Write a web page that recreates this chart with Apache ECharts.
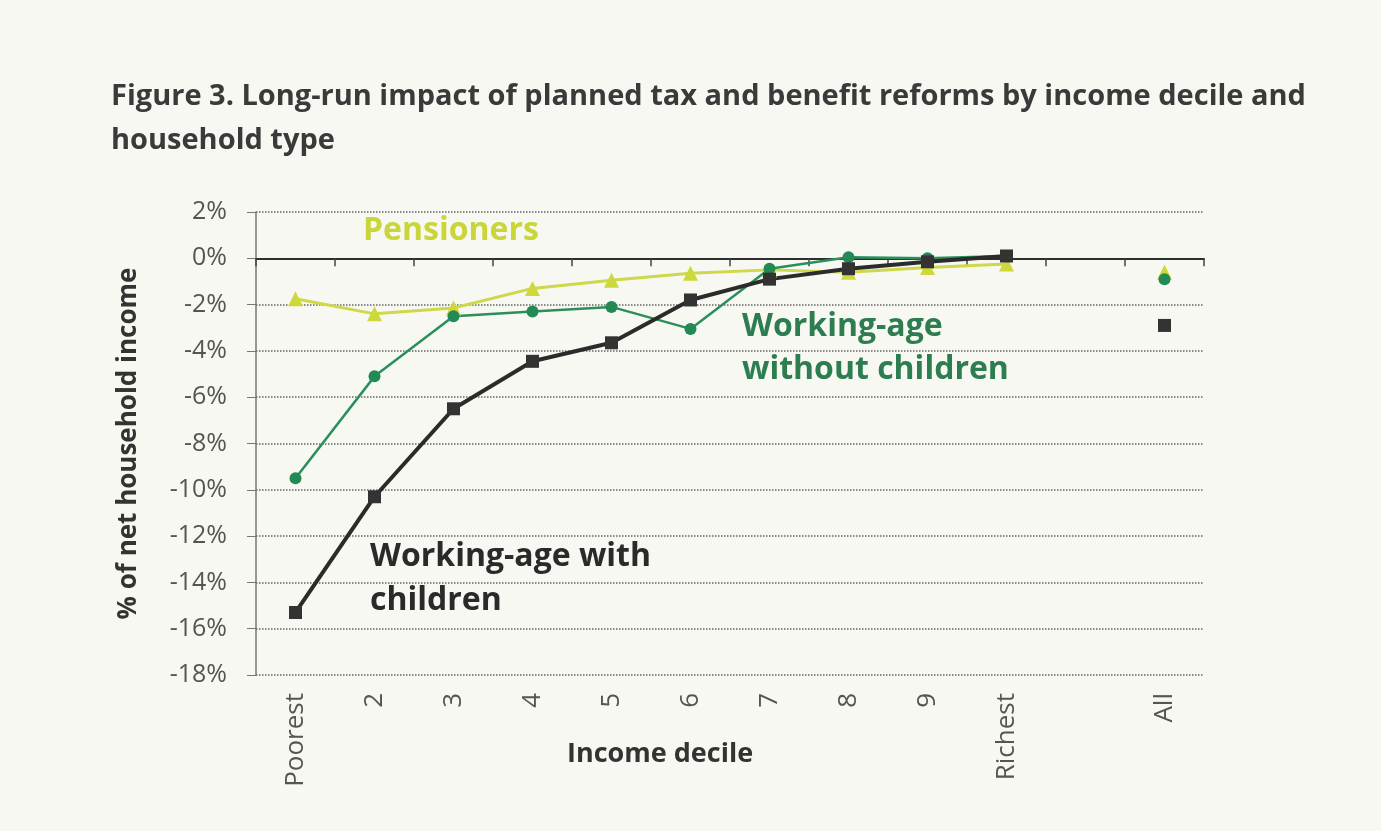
<!DOCTYPE html>
<html>
<head>
<meta charset="utf-8">
<script src="https://cdn.jsdelivr.net/npm/echarts@6/dist/echarts.min.js"></script>
<style>
html,body{margin:0;padding:0;background:#f7f8f1;}
#c{width:1381px;height:831px;}
</style>
</head>
<body>
<div id="c"></div>
<script>
const categories = ['Poorest','2','3','4','5','6','7','8','9','Richest','','All'];
const pensioners = [-1.75,-2.4,-2.15,-1.3,-0.95,-0.65,-0.5,-0.6,-0.4,-0.25,null,-0.6];
const withoutChildren = [-9.5,-5.1,-2.5,-2.3,-2.1,-3.05,-0.45,0.05,0.0,0.1,null,-0.9];
const withChildren = [-15.3,-10.3,-6.5,-4.45,-3.65,-1.8,-0.9,-0.45,-0.15,0.1,null,-2.9];
const yTicks = [2,0,-2,-4,-6,-8,-10,-12,-14,-16,-18];

const FONT = '"Open Sans", "DejaVu Sans", sans-serif';
const chart = echarts.init(document.getElementById('c'));
chart.setOption({
  backgroundColor: '#f7f8f1',
  animation: false,
  title: {
    text: 'Figure 3. Long-run impact of planned tax and benefit reforms by income decile and\nhousehold type',
    left: 106, top: 70,
    textStyle: {fontFamily: FONT, fontSize: 29, fontWeight: 'bold', color: '#3a3a3a', lineHeight: 44}
  },
  grid: {left: 256, right: 177, top: 212, bottom: 156},
  xAxis: [{
    type: 'category', data: categories, boundaryGap: true,
    axisLine: {show: false, onZero: false},
    axisTick: {show: false},
    axisLabel: {rotate: 90, margin: 18, fontFamily: FONT, fontSize: 26, color: '#555', interval: 0},
    splitLine: {show: false}
  },{
    type: 'category', data: categories, boundaryGap: true, position: 'bottom',
    axisLine: {show: true, onZero: true, lineStyle: {color: '#2e2e2e', width: 2}},
    axisTick: {show: true, length: 8, lineStyle: {color: '#444', width: 1.5}, interval: 0},
    axisLabel: {show: false}
  }],
  yAxis: {
    type: 'value', min: -18, max: 2, interval: 2,
    name: '% of net household income', nameLocation: 'middle', nameGap: 114, nameRotate: 90,
    nameTextStyle: {fontFamily: FONT, fontSize: 26, fontWeight: 'bold', color: '#333'},
    axisLine: {show: true, lineStyle: {color: '#777', width: 1.5}},
    axisTick: {show: true, length: 9, lineStyle: {color: '#777'}},
    axisLabel: {margin: 29, fontFamily: FONT, fontSize: 25, color: '#555',
      formatter: v => yTicks.includes(v) ? v + '%' : ''},
    splitLine: {show: true, lineStyle: {color: '#666', type: 'dotted', width: 1.5}}
  },
  graphic: [
    {type: 'text', left: 567, top: 741, style: {text: 'Income decile', fontFamily: FONT, fontSize: 27, fontWeight: 'bold', fill: '#333'}},
    {type: 'text', left: 363, top: 215, style: {text: 'Pensioners', fontFamily: FONT, fontSize: 32, fontWeight: 'bold', fill: '#cad53a'}},
    {type: 'text', left: 742, top: 305, style: {text: 'Working-age\nwithout children', fontFamily: FONT, fontSize: 32, fontWeight: 'bold', fill: '#2d7d50', lineHeight: 43}},
    {type: 'text', left: 370, top: 535, style: {text: 'Working-age with\nchildren', fontFamily: FONT, fontSize: 32, fontWeight: 'bold', fill: '#2a2a2a', lineHeight: 44}}
  ],
  series: [{
    name: 'Pensioners', type: 'line', data: pensioners, xAxisIndex: 0,
    symbol: 'triangle', symbolSize: 15,
    lineStyle: {color: '#cdd84a', width: 3},
    itemStyle: {color: '#cdd83a'}
  },{
    name: 'Working-age without children', type: 'line', data: withoutChildren, xAxisIndex: 0,
    symbol: 'circle', symbolSize: 12,
    lineStyle: {color: '#2a8f5c', width: 2.5},
    itemStyle: {color: '#238a55'}
  },{
    name: 'Working-age with children', type: 'line', data: withChildren, xAxisIndex: 0,
    symbol: 'rect', symbolSize: 13,
    lineStyle: {color: '#2b2b2b', width: 4},
    itemStyle: {color: '#333'}
  }]
});
</script>
</body>
</html>
